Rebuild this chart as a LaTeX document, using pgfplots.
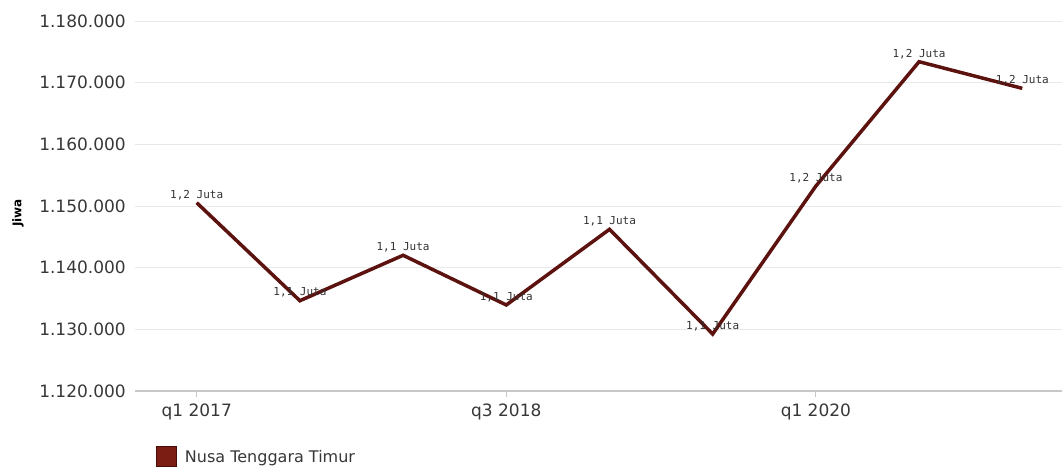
\documentclass[border=0pt]{standalone}
\usepackage{pgfplots}
\pgfplotsset{compat=1.18}
\usepackage{fontspec}
\setmainfont{DejaVu Sans}
\newfontfamily\labelfont{DejaVu Sans Mono}
\definecolor{linecol}{RGB}{92,18,14}
\definecolor{legfill}{RGB}{123,29,18}
\definecolor{legdraw}{RGB}{70,12,8}
\definecolor{gridcol}{RGB}{232,232,232}
\definecolor{axcol}{RGB}{200,200,200}
\definecolor{tickcol}{RGB}{55,55,55}
\definecolor{lblcol}{RGB}{50,50,50}
\begin{document}
\begin{tikzpicture}
\useasboundingbox (0,0) rectangle (1062pt,467pt);
\begin{axis}[
  at={(135pt,76pt)}, anchor=south west,
  scale only axis, width=927pt, height=370pt,
  xmin=-0.598, xmax=8.385, ymin=1120000, ymax=1180000,
  scaled y ticks=false,
  axis lines=left,
  axis line style={-},
  x axis line style={draw=axcol, line width=1.2pt},
  y axis line style={draw=none},
  ytick={1120000,1130000,1140000,1150000,1160000,1170000,1180000},
  yticklabels={1.120.000,1.130.000,1.140.000,1.150.000,1.160.000,1.170.000,1.180.000},
  xtick={0,3,6},
  xticklabels={q1 2017,q3 2018,q1 2020},
  ymajorgrids,
  grid style={draw=gridcol, line width=1pt},
  major y tick style={draw=none},
  major x tick style={draw=axcol, line width=1pt},
  tick align=outside,
  major tick length=6pt,
  ticklabel style={font=\fontsize{17}{19}\selectfont, text=tickcol},
  yticklabel style={inner sep=0pt, xshift=-3pt},
  xticklabel style={inner sep=0pt, yshift=-7pt},
  ylabel={Jiwa},
  ylabel style={font=\bfseries\fontsize{12}{14}\selectfont, at={(axis description cs:-0.1262,0.481)}, anchor=center, text=black},
  legend style={at={(axis description cs:0,0)}, anchor=north west, xshift=21pt, yshift=-55pt, draw=none, fill=none, inner sep=0pt, font=\fontsize{16}{18}\selectfont, text=tickcol, nodes={inner xsep=8pt}},
  legend cell align=left,
  legend image code/.code={\draw[fill=legfill, draw=legdraw, line width=0.8pt] (0pt,-9pt) rectangle (20pt,11pt);},
  clip=false,
]
\addplot[draw=none, forget plot, nodes near coords, point meta=explicit symbolic,
  every node near coord/.append style={font=\labelfont\fontsize{11}{12}\selectfont, text=lblcol, anchor=center, yshift=8pt, inner sep=0pt}]
  table[meta=l] {
  x y l
  0 1150530 {1,2 Juta}
  1 1134640 {1,1 Juta}
  2 1142010 {1,1 Juta}
  3 1133950 {1,1 Juta}
  4 1146220 {1,1 Juta}
  5 1129240 {1,1 Juta}
  6 1153240 {1,2 Juta}
  7 1173400 {1,2 Juta}
  8 1169080 {1,2 Juta}
  };
\addplot[linecol, line width=3.5pt, mark=none, line join=miter]
  table {
  x y
  0 1150530
  1 1134640
  2 1142010
  3 1133950
  4 1146220
  5 1129240
  6 1153240
  7 1173400
  8 1169080
  };
\addlegendentry{Nusa Tenggara Timur}
\end{axis}
\end{tikzpicture}
\end{document}
